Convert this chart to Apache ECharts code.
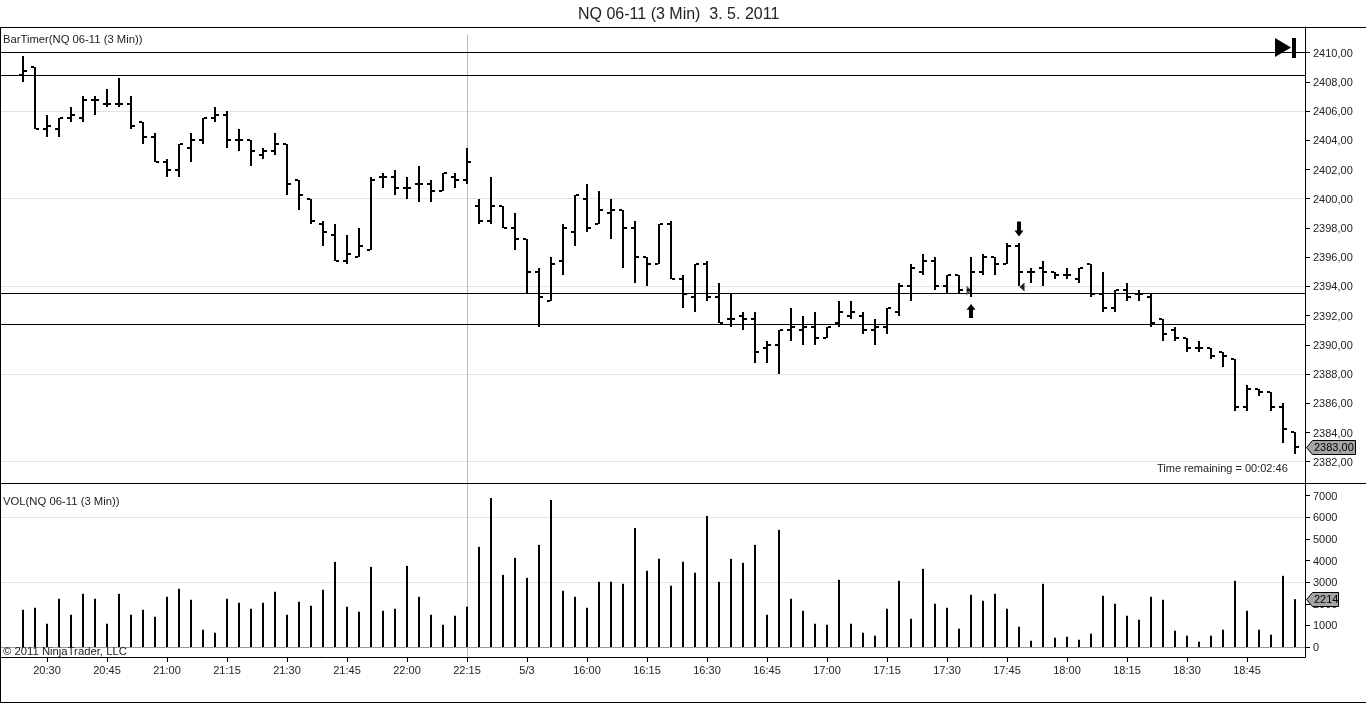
<!DOCTYPE html>
<html>
<head>
<meta charset="utf-8">
<title>NQ 06-11 (3 Min)</title>
<script src="https://cdn.jsdelivr.net/npm/echarts@6/dist/echarts.min.js"></script>
<style>
    html, body { margin: 0; padding: 0; background: #fff; }
    #chart { width: 1366px; height: 703px; }
</style>
</head>
<body>
<div id="chart"></div>
<script>
// one row per 3 min bar: open, high, low, close
var opens = [2408.5,2409,2404.75,2404.75,2405.5,2405.5,2406.75,2406.5,2406.5,2406.5,2405.25,2404.25,2402.5,2402,2403.5,2404,2405.5,2405.75,2404,2404,2403,2403.25,2403.75,2401.25,2400,2398.25,2397.5,
    2395.75,2396,2396.5,2401.5,2401.5,2400.75,2401,2401,2400.5,2401.5,2401.25,2399.5,2398.5,2399.5,2398,2397.25,2395,2393,2395.75,2397.75,2400,2398.25,2399,2399.25,2398,2396,2395.5,
    2398.25,2394.5,2393.25,2395.5,2393.25,2391.75,2392,2391.75,2389.75,2390,2391,2391,2391.25,2390.5,2391.5,2392,2392,2391,2391.25,2392.25,2394,2395,2395.75,2394,2394.75,2393.75,2395,2396,
    2395.5,2396.75,2395,2395.25,2395,2394.75,2394.5,2395.5,2393.5,2392.5,2393.75,2393.5,2393.25,2391.75,2391,2390.5,2389.75,2389.75,2389.5,2389,2385.75,2387,2386.75,2385.75,2384];
var highs = [2409.75,2409,2405.75,2405.5,2406.25,2407,2407,2407.5,2408.25,2407,2405.25,2404.5,2402.75,2403.75,2404.5,2405.5,2406.25,2406,2404.75,2404,2403.5,2404.5,2403.75,2401.25,2400,2398.5,2398.25,
    2397.5,2398,2401.5,2401.75,2402,2401.5,2402.25,2401.25,2401.75,2401.75,2403.5,2400,2401.5,2399.5,2399,2397.25,2395.25,2396,2398.25,2400.25,2401,2400.5,2400,2399.25,2398.5,2396,2398.25,
    2398.5,2394.75,2395.5,2395.75,2394.25,2393.5,2392.25,2392.25,2390.25,2391,2392.5,2392,2392.25,2391.25,2393,2393,2392.25,2391.75,2392.5,2394.25,2395.5,2396.25,2396,2394.75,2394.75,2396,2396.25,2396,
    2397,2397,2395.25,2395.75,2395,2395.25,2395.25,2395.5,2395,2393.75,2394.25,2393.75,2393.5,2391.75,2391.25,2390.5,2390.25,2389.75,2389.5,2389,2387.25,2387,2386.75,2386,2384];
var lows = [2408,2404.75,2404.25,2404.25,2405.25,2405.25,2405.75,2406.25,2406.25,2404.75,2403.75,2402.5,2401.5,2401.5,2402.5,2403.75,2405.25,2403.5,2403.25,2402.25,2402.75,2403,2400.25,2399.25,2398.25,2396.75,2395.75,
    2395.5,2396,2396.5,2400.75,2400.25,2400,2399.75,2399.75,2400.5,2400.75,2401,2398.25,2398.25,2398,2396.5,2393.5,2391.25,2393,2394.75,2396.75,2397.75,2398.25,2397.25,2395.25,2394.25,2394,2395.5,
    2394.5,2392.5,2392.25,2393,2391.5,2391.25,2391,2388.75,2388.75,2388,2390.25,2390,2390,2390.5,2391.25,2391.75,2390.75,2390,2390.75,2392,2393,2394.75,2393.75,2393.5,2393.5,2393.25,2394.75,2394.75,
    2395.5,2394,2394.25,2394,2394.5,2394.5,2394.25,2393.25,2392.25,2392.25,2393,2393,2391.25,2390.25,2390.25,2389.5,2389.5,2389,2388.5,2385.5,2385.5,2386.5,2385.5,2383.25,2382.5];
var closes = [2408.75,2404.75,2405,2405.5,2405.75,2406.75,2406.75,2406.5,2406.5,2405,2404.25,2402.5,2402,2403.75,2404,2405.5,2405.75,2404,2404,2403.25,2403.25,2403.75,2401,2400.25,2398.5,2397.75,2395.75,
    2396.25,2396.75,2401.25,2401.5,2400.75,2400.75,2401,2400.5,2401.75,2401.25,2402.5,2398.5,2399.5,2398,2397.25,2395,2393.25,2395.5,2398,2400.25,2398,2399.25,2399.25,2398,2396,2395.5,2398.25,
    2394.5,2393.5,2395.5,2393.25,2391.5,2391.75,2391.75,2389.5,2390,2391,2391.25,2391.25,2390.5,2391.25,2392.25,2392.25,2391,2391.25,2392.5,2394,2395.25,2395.75,2394,2394.75,2393.75,2395,2396,2395.5,
    2396.75,2395,2395,2395,2394.75,2394.75,2395.25,2393.5,2392.5,2393.75,2393.25,2393.5,2391.5,2390.75,2390.5,2389.75,2389.75,2389.25,2389.25,2385.75,2387,2386.75,2385.75,2384.25,2383];
var volumes = [1723,1815,1077,2230,1492,2461,2230,1077,2461,1492,1723,1400,2322,2692,2184,800,661,2230,2046,1769,2046,2553,1492,2092,1907,2646,3937,1861,1630,3707,1676,1769,3753,2322,1492,1030,
    1446,1861,4629,6890,3337,4122,3199,4722,6798,2599,2322,1815,3014,3014,2922,5506,3522,4076,2830,3937,3430,6060,3014,4076,3891,4722,1492,5414,2230,1676,1077,1030,3107,1077,661,523,1769,3061,
    1307,3614,2000,1815,846,2415,2138,2461,1769,938,292,2922,431,477,338,615,2368,2000,1446,1261,2322,2184,754,523,246,523,800,3061,1676,800,569,3291,2214];

var timeLabels = ['20:30','20:45','21:00','21:15','21:30','21:45','22:00','22:15','5/3','16:00','16:15','16:30','16:45','17:00','17:15','17:30','17:45','18:00','18:15','18:30','18:45'];
var timeTicks = [2,7,12,17,22,27,32,37,42,47,52,57,62,67,72,77,82,87,92,97,102];
var priceTicks = [2382,2384,2386,2388,2390,2392,2394,2396,2398,2400,2402,2404,2406,2408,2410];
var volumeTicks = [0,1000,2000,3000,4000,5000,6000,7000];
var priceGrid = [2382,2388,2394,2400,2406];
var volumeGrid = [3000,6000];
var priceLines = [2410,2408.45,2393.5,2391.4];
var sessionBreak = [37];
var lastPrice = [2383];
var lastVolume = [2214];
var entryArrow = [[79,2392.31]];
var exitArrow = [[83,2397.93]];
var entryMark = [[79,2393.72]];
var exitMark = [[83,2393.96]];

var FONT = '"Liberation Sans", Arial, sans-serif';
var TEXT = '#222';
var X_MIN = -1.8333, X_MAX = 106.8333;

var ohlc = opens.map(function (o, i) { return [i, o, highs[i], lows[i], closes[i]]; });

function renderOhlc(params, api) {
    var x = Math.round(api.coord([api.value(0), 0])[0]);
    var yOf = function (dim) { return Math.round(api.coord([0, api.value(dim)])[1]); };
    var yH = yOf(2), yL = yOf(3);
    var fill = { fill: '#000' };
    return {
        type: 'group',
        children: [
            { type: 'rect', shape: { x: x - 1, y: yH, width: 2, height: Math.max(yL - yH, 1) }, style: fill },
            { type: 'rect', shape: { x: x - 4, y: yOf(1) - 1, width: 3, height: 2 }, style: fill },
            { type: 'rect', shape: { x: x + 1, y: yOf(4) - 1, width: 3, height: 2 }, style: fill }
        ]
    };
}

function hRules(values, color, index, z) {
    return {
        type: 'custom', xAxisIndex: index, yAxisIndex: index, z: z, silent: true,
        data: values.map(function (v) { return [0, v]; }),
        renderItem: function (params, api) {
            var cs = params.coordSys;
            var y = Math.floor(api.coord([0, api.value(1)])[1]);
            return { type: 'rect', shape: { x: cs.x, y: y, width: cs.width, height: 1 }, style: { fill: color } };
        }
    };
}

function vRule(values, top, index) {
    return {
        type: 'custom', xAxisIndex: index, yAxisIndex: index, z: 1, silent: true,
        data: values.map(function (v) { return [v, 0]; }),
        renderItem: function (params, api) {
            var cs = params.coordSys;
            var x = Math.round(api.coord([api.value(0), 0])[0]);
            var y = top === null ? cs.y : top;
            return { type: 'rect', shape: { x: x, y: y, width: 1, height: cs.y + cs.height - y }, style: { fill: '#b9b9b9' } };
        }
    };
}

// grey price flag sitting on the axis
function lastTag(values, index, width, text) {
    return {
        type: 'custom', xAxisIndex: index, yAxisIndex: index, z: 20, silent: true,
        data: values.map(function (v) { return [0, v]; }),
        renderItem: function (params, api) {
            var cs = params.coordSys;
            var x = cs.x + cs.width + 1;
            var y = Math.round(api.coord([0, api.value(1)])[1]);
            return {
                type: 'group',
                children: [
                    { type: 'polygon', shape: { points: [[x + 0.5, y + 0.5], [x + 6.5, y - 6.5], [x + width + 0.5, y - 6.5], [x + width + 0.5, y + 7.5], [x + 6.5, y + 7.5]] },
                        style: { fill: '#a4a4a4', stroke: '#000', lineWidth: 1 } },
                    { type: 'text', style: { text: text, x: x + 8, y: y + 1, fill: '#000', font: '11px ' + FONT, textVerticalAlign: 'middle' } }
                ]
            };
        }
    };
}

function sideAxis(index, min, max, ticks, fmt) {
    return {
        type: 'value', gridIndex: index, position: 'right', min: min, max: max, scale: true,
        axisLine: { show: true, onZero: false, lineStyle: { color: '#000', width: 1 } },
        axisTick: { show: true, length: 5, customValues: ticks, lineStyle: { color: '#000', width: 1 } },
        axisLabel: {
            show: true, margin: 8, customValues: ticks, color: TEXT, fontSize: 11, fontFamily: FONT,
            formatter: function (v) { return '{a|' + fmt(v) + '}'; },
            rich: { a: { color: TEXT, fontSize: 11, fontFamily: FONT, padding: [2, 0, 0, 0] } }
        },
        splitLine: { show: false }
    };
}

function panelText(text, x, y, size) {
    return { type: 'text', x: x, y: y, z: 30, style: { text: text, fill: TEXT, font: size + 'px ' + FONT, textVerticalAlign: 'middle' } };
}

function frameLine(x, y, w, h) {
    return { type: 'rect', shape: { x: x, y: y, width: w, height: h }, z: 30, style: { fill: '#000' } };
}

var chart = echarts.init(document.getElementById('chart'));
chart.setOption({
    animation: false,
    title: {
        text: 'NQ 06-11 (3 Min)  3. 5. 2011',
        left: 573, top: 2,
        textStyle: { color: TEXT, fontSize: 16, fontWeight: 'normal', fontFamily: FONT }
    },
    grid: [
        { left: 1, top: 27, width: 1304, height: 456 },
        { left: 1, top: 483, width: 1304, height: 174 }
    ],
    xAxis: [
        { type: 'value', gridIndex: 0, min: X_MIN, max: X_MAX, show: false, splitLine: { show: false } },
        {
            type: 'value', gridIndex: 1, min: X_MIN, max: X_MAX, position: 'bottom',
            axisLine: { show: true, onZero: false, lineStyle: { color: '#000', width: 1 } },
            axisTick: { show: true, length: 5, customValues: timeTicks, lineStyle: { color: '#000', width: 1 } },
            axisLabel: {
                show: true, margin: 8, customValues: timeTicks, color: TEXT, fontSize: 11, fontFamily: FONT,
                formatter: function (v) { return timeLabels[timeTicks.indexOf(v)]; }
            },
            splitLine: { show: false }
        }
    ],
    yAxis: [
        sideAxis(0, 2380.542, 2411.754, priceTicks, function (v) { return v.toFixed(2).replace('.', ','); }),
        sideAxis(1, -461, 7583, volumeTicks, function (v) { return String(v); })
    ],
    series: [
        hRules(priceGrid, '#e2e2e2', 0, 1),
        hRules(volumeGrid, '#e2e2e2', 1, 1),
        hRules([0], '#9a9a9a', 1, 1),
        vRule(sessionBreak, 35, 0),
        vRule(sessionBreak, null, 1),
        hRules(priceLines, '#000', 0, 2),
        {
            type: 'custom', xAxisIndex: 0, yAxisIndex: 0, z: 3, silent: true,
            data: ohlc,
            encode: { x: 0, y: [1, 2, 3, 4] },
            renderItem: renderOhlc
        },
        {
            type: 'bar', xAxisIndex: 1, yAxisIndex: 1, z: 3, silent: true, barWidth: 2,
            itemStyle: { color: '#000' },
            data: volumes.map(function (v, i) { return [i, v]; })
        },
        {
            type: 'scatter', xAxisIndex: 0, yAxisIndex: 0, z: 4, silent: true,
            symbol: 'path://M5 0 L10 6 L7.25 6 L7.25 15 L2.75 15 L2.75 6 L0 6 Z', symbolSize: [9, 14],
            itemStyle: { color: '#000', opacity: 1 }, data: entryArrow
        },
        {
            type: 'scatter', xAxisIndex: 0, yAxisIndex: 0, z: 4, silent: true,
            symbol: 'path://M2.75 0 L7.25 0 L7.25 9 L10 9 L5 15 L0 9 L2.75 9 Z', symbolSize: [9, 15],
            itemStyle: { color: '#000', opacity: 1 }, data: exitArrow
        },
        {
            type: 'scatter', xAxisIndex: 0, yAxisIndex: 0, z: 2, silent: true,
            symbol: 'triangle', symbolSize: [10, 5], symbolRotate: -90, symbolOffset: [-2, 0],
            itemStyle: { color: '#555', opacity: 1 }, data: entryMark
        },
        {
            type: 'scatter', xAxisIndex: 0, yAxisIndex: 0, z: 2, silent: true,
            symbol: 'triangle', symbolSize: [9, 5], symbolRotate: 90, symbolOffset: [3, 0],
            itemStyle: { color: '#222', opacity: 1 }, data: exitMark
        },
        lastTag(lastPrice, 0, 49, '2383,00'),
        lastTag(lastVolume, 1, 32, '2214')
    ],
    graphic: [
        frameLine(0, 27, 1366, 1),
        frameLine(0, 483, 1366, 1),
        frameLine(0, 702, 1366, 1),
        frameLine(0, 27, 1, 676),
        panelText('BarTimer(NQ 06-11 (3 Min))', 3, 40, 11.25),
        panelText('VOL(NQ 06-11 (3 Min))', 3, 502, 11.3),
        panelText('\u00a9 2011 NinjaTrader, LLC', 3, 652, 11.3),
        panelText('Time remaining = 00:02:46', 1157, 469, 11),
        { type: 'polygon', z: 30, shape: { points: [[1275, 38], [1291, 47.5], [1275, 57]] }, style: { fill: '#000' } },
        { type: 'rect', z: 30, shape: { x: 1292, y: 38, width: 4, height: 20 }, style: { fill: '#000' } }
    ]
});
</script>
</body>
</html>
